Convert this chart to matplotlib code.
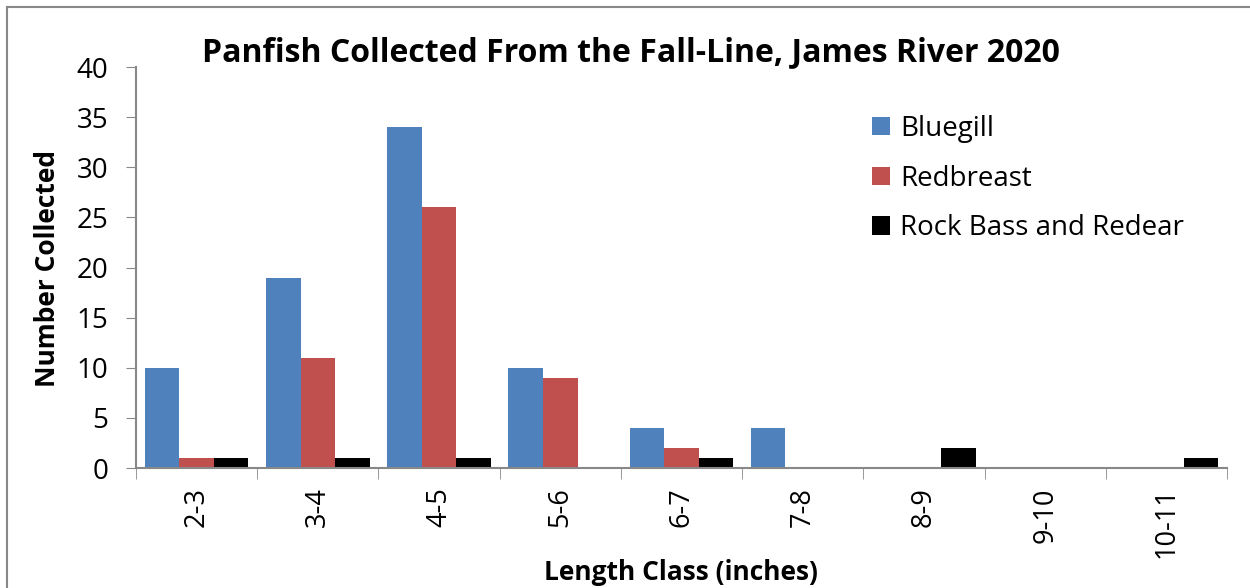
import numpy as np
import matplotlib
matplotlib.use('Agg')
import matplotlib.pyplot as plt
from matplotlib.lines import Line2D

# data
length_classes = ['2-3', '3-4', '4-5', '5-6', '6-7', '7-8', '8-9', '9-10', '10-11']
bluegill = [10, 19, 34, 10, 4, 4, 0, 0, 0]
redbreast = [1, 11, 26, 9, 2, 0, 0, 0, 0]
rock_bass_redear = [1, 1, 1, 0, 1, 0, 2, 0, 1]
series_names = ['Bluegill', 'Redbreast', 'Rock Bass and Redear']
series_colors = ['#4F81BD', '#C0504D', '#000000']
y_ticks = [0, 5, 10, 15, 20, 25, 30, 35, 40]

plt.rcParams['font.family'] = ['Open Sans', 'DejaVu Sans']

fig = plt.figure(figsize=(12.5, 5.88), dpi=100)
ax = fig.add_axes([0.1088, 0.204, 0.8728, 0.682])

x = np.arange(len(length_classes))
w = 0.285
for i, (vals, name, col) in enumerate(zip([bluegill, redbreast, rock_bass_redear],
                                          series_names, series_colors)):
    ax.bar(x + (i - 1) * w, vals, width=w, color=col, label=name)

ax.set_xlim(-0.5, len(length_classes) - 0.5)
ax.set_ylim(0, 40)
ax.set_yticks(y_ticks)
ax.tick_params(axis='y', labelsize=20, length=7, color='#888888', pad=13)

# category labels at centres, ticks at boundaries
ax.set_xticks(x)
ax.set_xticklabels(length_classes, rotation=90, fontsize=19.5)
ax.tick_params(axis='x', length=0, pad=14)
ax.set_xticks(np.arange(-0.5, len(length_classes)), minor=True)
ax.tick_params(axis='x', which='minor', length=8, color='#888888')

for s in ['top', 'right']:
    ax.spines[s].set_visible(False)
for s in ['left', 'bottom']:
    ax.spines[s].set_color('#888888')
    ax.spines[s].set_linewidth(1.5)

fig.text(0.505, 0.91, 'Panfish Collected From the Fall-Line, James River 2020',
         ha='center', va='center', fontsize=23, fontweight='bold')
fig.text(0.038, 0.544, 'Number Collected', rotation=90, ha='center', va='center',
         fontsize=19, fontweight='bold')
fig.text(0.545, 0.027, 'Length Class (inches)', ha='center', va='center',
         fontsize=19, fontweight='bold')

leg = ax.legend(loc='upper left', bbox_to_anchor=(0.652, 0.943), frameon=False,
                fontsize=20, handlelength=0.65, handleheight=0.65, labelspacing=0.78,
                handletextpad=0.35)

# chart area border (top and left visible)
fig.add_artist(Line2D([0.0056, 0.0056], [0.0, 0.988], transform=fig.transFigure,
                      color='#888888', lw=1.5))
fig.add_artist(Line2D([0.0056, 1.0], [0.988, 0.988], transform=fig.transFigure,
                      color='#888888', lw=1.5))

fig.savefig('out.png', dpi=100)
plt.close()
